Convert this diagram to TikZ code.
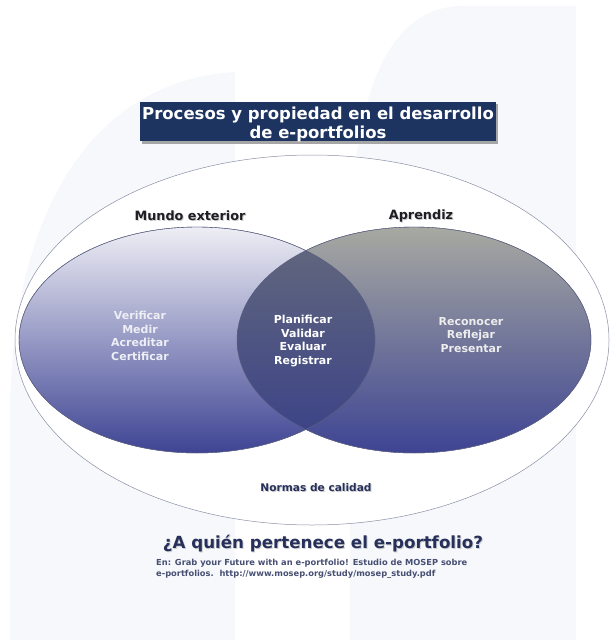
\documentclass[tikz,border=0pt]{standalone}
\usepackage{fontspec}
\setmainfont{DejaVu Sans}
\usetikzlibrary{shapes.geometric}
\definecolor{navy}{HTML}{1D3461}
\definecolor{lav}{HTML}{EEEEF5}
\definecolor{blu}{HTML}{3E4493}
\definecolor{gry}{HTML}{A7A9A1}
\definecolor{lenstop}{HTML}{646A7C}
\definecolor{lensbot}{HTML}{394088}
\definecolor{edge}{HTML}{5A5F80}
\definecolor{wm}{HTML}{F6F8FB}
\definecolor{headc}{HTML}{1E1E24}
\definecolor{qc}{HTML}{27305A}
\tikzset{
  inner/.style={font=\bfseries\fontsize{11}{13.5}\selectfont, align=center, inner sep=0pt},
  head/.style={font=\bfseries\fontsize{12.8}{15}\selectfont, text=headc, inner sep=0pt},
  shadowtxt/.style={text=black!30, opacity=0.6},
}
\begin{document}
\begin{tikzpicture}[x=1pt,y=-1pt]
\useasboundingbox (0,0) rectangle (610,644);
% faint background shapes
\fill[wm] (10,640) -- (10,420) .. controls (10,200) and (100,80) .. (235,72) -- (235,640) -- cycle;
\fill[wm] (350,640) -- (350,260) .. controls (350,90) and (390,8) .. (460,6) -- (576,6) -- (576,640) -- cycle;
% outer ellipse
\draw[edge!70, line width=0.5pt, fill=white] (312,340) ellipse [x radius=297pt, y radius=185pt];
% title
\fill[black!35] (142,104) rectangle (498,144);
\node[fill=navy, minimum width=356pt, minimum height=39pt, inner sep=0pt] (title) at (318,122) {};
\node[text=white, font=\bfseries\fontsize{16.5}{19}\selectfont, align=center] (titletxt) at (318,124) {Procesos y propiedad en el desarrollo\\de e-portfolios};
% venn
\shade[top color=gry, bottom color=blu, draw=edge, line width=0.4pt] (414,340) ellipse [x radius=177pt, y radius=113pt];
\shade[top color=lav, bottom color=blu, draw=edge, line width=0.4pt] (197,340) ellipse [x radius=178pt, y radius=113pt];
\begin{scope}
\clip (197,340) ellipse [x radius=178pt, y radius=113pt];
\shade[top color=lenstop, bottom color=lensbot] (414,340) ellipse [x radius=177pt, y radius=113pt];
\end{scope}
\draw[edge, line width=0.4pt] (197,340) ellipse [x radius=178pt, y radius=113pt];
\draw[edge, line width=0.4pt] (414,340) ellipse [x radius=177pt, y radius=113pt];
% headings
\node[head, shadowtxt] at (191,217) {Mundo exterior};
\node[head] (mundo) at (190,216) {Mundo exterior};
\node[head, shadowtxt] at (422,217) {Aprendiz};
\node[head] (aprendiz) at (421,216) {Aprendiz};
% inner texts
\node[inner, text=lav] (left) at (140,336) {Verificar\\Medir\\Acreditar\\Certificar};
\node[inner, text=white] (mid) at (303,341) {Planificar\\Validar\\Evaluar\\Registrar};
\node[inner, text=white!93!black] (right) at (471,335) {Reconocer\\Reflejar\\Presentar};
% normas
\node[font=\bfseries\fontsize{10.6}{12}\selectfont, shadowtxt] at (317,489) {Normas de calidad};
\node[font=\bfseries\fontsize{10.6}{12}\selectfont, text=qc] (normas) at (316,488) {Normas de calidad};
% question
\node[font=\bfseries\fontsize{16.7}{20}\selectfont, shadowtxt] at (324,545) {¿A quién pertenece el e-portfolio?};
\node[font=\bfseries\fontsize{16.7}{20}\selectfont, text=qc] (question) at (323,544) {¿A quién pertenece el e-portfolio?};
% source
\node[font=\bfseries\fontsize{8.3}{10.5}\selectfont, text=qc!85, align=left, anchor=west, inner sep=0pt] (source) at (156,569) {En: Grab your Future with an e-portfolio! Estudio de MOSEP sobre\\e-portfolios.\ \ http://www.mosep.org/study/mosep\_study.pdf};
\end{tikzpicture}
\end{document}
